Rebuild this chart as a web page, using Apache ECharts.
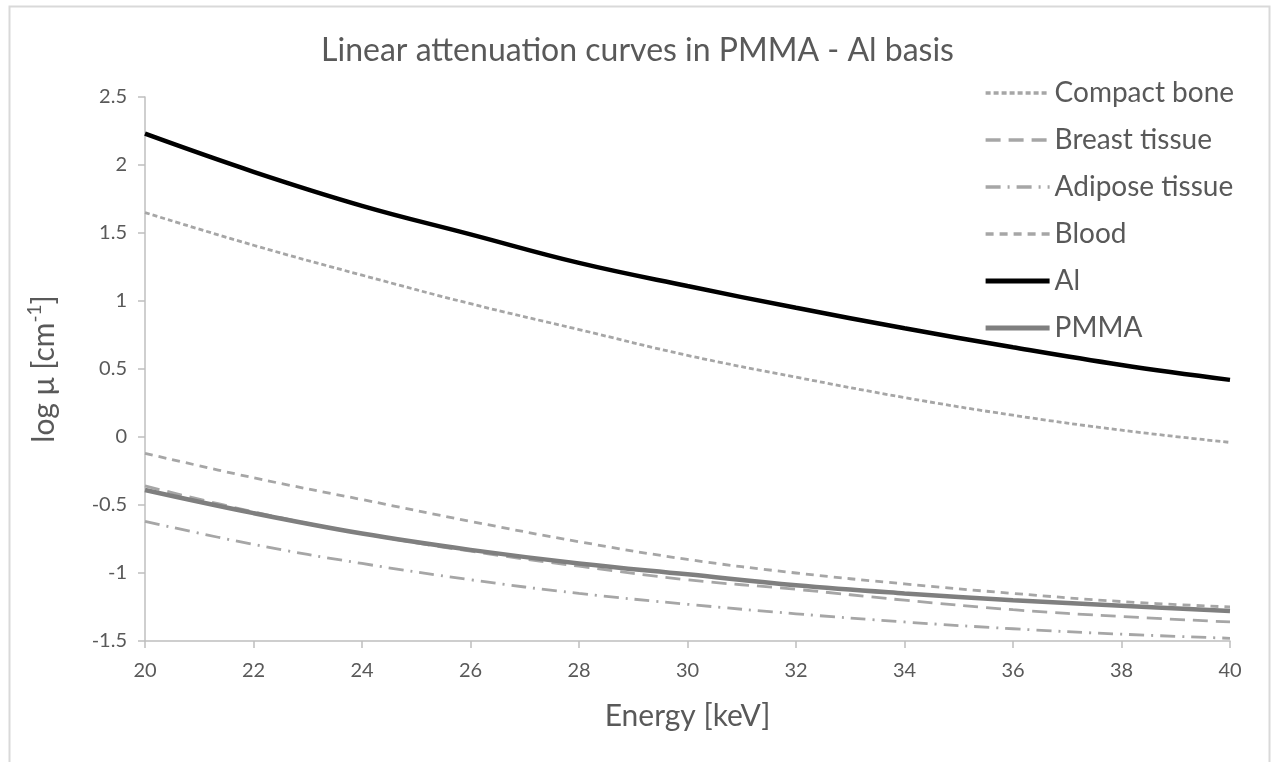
<!DOCTYPE html>
<html>
<head>
<meta charset="utf-8">
<script src="https://cdn.jsdelivr.net/npm/echarts@6/dist/echarts.min.js"></script>
<style>
html,body{margin:0;padding:0;background:#fff;}
#chart{width:1275px;height:762px;}
</style>
</head>
<body>
<div id="chart"></div>
<script>
const energy = [20, 22, 24, 26, 28, 30, 32, 34, 36, 38, 40];
const compactBone = [1.65, 1.41, 1.19, 0.98, 0.79, 0.60, 0.44, 0.29, 0.16, 0.05, -0.04];
const breastTissue = [-0.36, -0.55, -0.71, -0.84, -0.95, -1.05, -1.12, -1.20, -1.27, -1.32, -1.36];
const adiposeTissue = [-0.62, -0.79, -0.93, -1.05, -1.15, -1.23, -1.30, -1.36, -1.41, -1.45, -1.48];
const blood = [-0.12, -0.30, -0.46, -0.62, -0.77, -0.90, -1.00, -1.08, -1.15, -1.21, -1.25];
const al = [2.23, 1.95, 1.70, 1.49, 1.28, 1.11, 0.95, 0.80, 0.66, 0.53, 0.42];
const pmma = [-0.39, -0.56, -0.71, -0.83, -0.93, -1.01, -1.09, -1.15, -1.20, -1.24, -1.28];
const seriesNames = ['Compact bone', 'Breast tissue', 'Adipose tissue', 'Blood', 'Al', 'PMMA'];

const FONT = 'Lato, "Open Sans", sans-serif';
const pairs = arr => energy.map((e, i) => [e, arr[i]]);

const styles = {
  'Compact bone':   { color: '#a6a6a6', width: 2.8, type: [5, 3] },
  'Breast tissue':  { color: '#a6a6a6', width: 2.8, type: [15, 8] },
  'Adipose tissue': { color: '#a6a6a6', width: 2.8, type: [15, 7, 2, 7] },
  'Blood':          { color: '#a6a6a6', width: 2.8, type: [8, 6] },
  'Al':             { color: '#000000', width: 4.5, type: 'solid' },
  'PMMA':           { color: '#7f7f7f', width: 4.5, type: 'solid' }
};

function mk(name, data) {
  const s = styles[name];
  return {
    name: name, type: 'line', data: pairs(data), smooth: 0.4,
    symbol: 'none', showSymbol: false,
    lineStyle: { color: s.color, width: s.width, type: s.type, cap: 'butt' },
    itemStyle: { color: s.color },
    emphasis: { disabled: true }
  };
}

const chart = echarts.init(document.getElementById('chart'));
chart.setOption({
  animation: false,
  backgroundColor: '#ffffff',
  graphic: [{
    type: 'rect', left: 7, top: 4, silent: true,
    shape: { width: 1260, height: 800 },
    style: { fill: 'none', stroke: '#d9d9d9', lineWidth: 2 }
  }],
  title: {
    text: 'Linear attenuation curves in PMMA - Al basis',
    left: 'center', top: 30,
    textStyle: { fontFamily: FONT, fontSize: 32, fontWeight: 'normal', color: '#595959' }
  },
  legend: {
    orient: 'vertical', left: 978, top: 73,
    itemWidth: 64, itemHeight: 14, itemGap: 17,
    itemStyle: { opacity: 0, color: 'rgba(0,0,0,0)', borderWidth: 0 },
    textStyle: { fontFamily: FONT, fontSize: 28, lineHeight: 30, color: '#595959' },
    data: seriesNames.map(n => ({
      name: n,
      lineStyle: { color: styles[n].color, width: styles[n].width + 0.7, type: styles[n].type, cap: 'butt' }
    }))
  },
  grid: { left: 145, right: 45, top: 97, bottom: 121, containLabel: false },
  xAxis: {
    type: 'value', min: 20, max: 40, interval: 2,
    name: 'Energy [keV]', nameLocation: 'middle', nameGap: 60,
    nameTextStyle: { fontFamily: FONT, fontSize: 30, color: '#595959' },
    axisLine: { onZero: false, lineStyle: { color: '#bfbfbf', width: 1.5 } },
    axisTick: { show: true, length: 7, lineStyle: { color: '#bfbfbf', width: 1.5 } },
    axisLabel: { fontFamily: FONT, fontSize: 20, color: '#595959', margin: 20 },
    splitLine: { show: false }
  },
  yAxis: {
    type: 'value', min: -1.5, max: 2.5, interval: 0.5,
    name: '{m|log μ [cm}{s|-1}{m|]}', nameLocation: 'middle', nameGap: 86, nameRotate: 90,
    nameTextStyle: {
      fontFamily: FONT, fontSize: 30, color: '#595959',
      rich: {
        m: { fontFamily: FONT, fontSize: 30, color: '#595959', lineHeight: 34, verticalAlign: 'bottom' },
        s: { fontFamily: FONT, fontSize: 19, color: '#595959', lineHeight: 34, verticalAlign: 'top', padding: [0, 0, 14, 0] }
      }
    },
    axisLine: { show: true, onZero: false, lineStyle: { color: '#bfbfbf', width: 1.5 } },
    axisTick: { show: true, length: 7, lineStyle: { color: '#bfbfbf', width: 1.5 } },
    axisLabel: { fontFamily: FONT, fontSize: 20, color: '#595959', margin: 18 },
    splitLine: { show: false }
  },
  series: [
    mk('Compact bone', compactBone),
    mk('Breast tissue', breastTissue),
    mk('Adipose tissue', adiposeTissue),
    mk('Blood', blood),
    mk('Al', al),
    mk('PMMA', pmma)
  ]
});
</script>
</body>
</html>
